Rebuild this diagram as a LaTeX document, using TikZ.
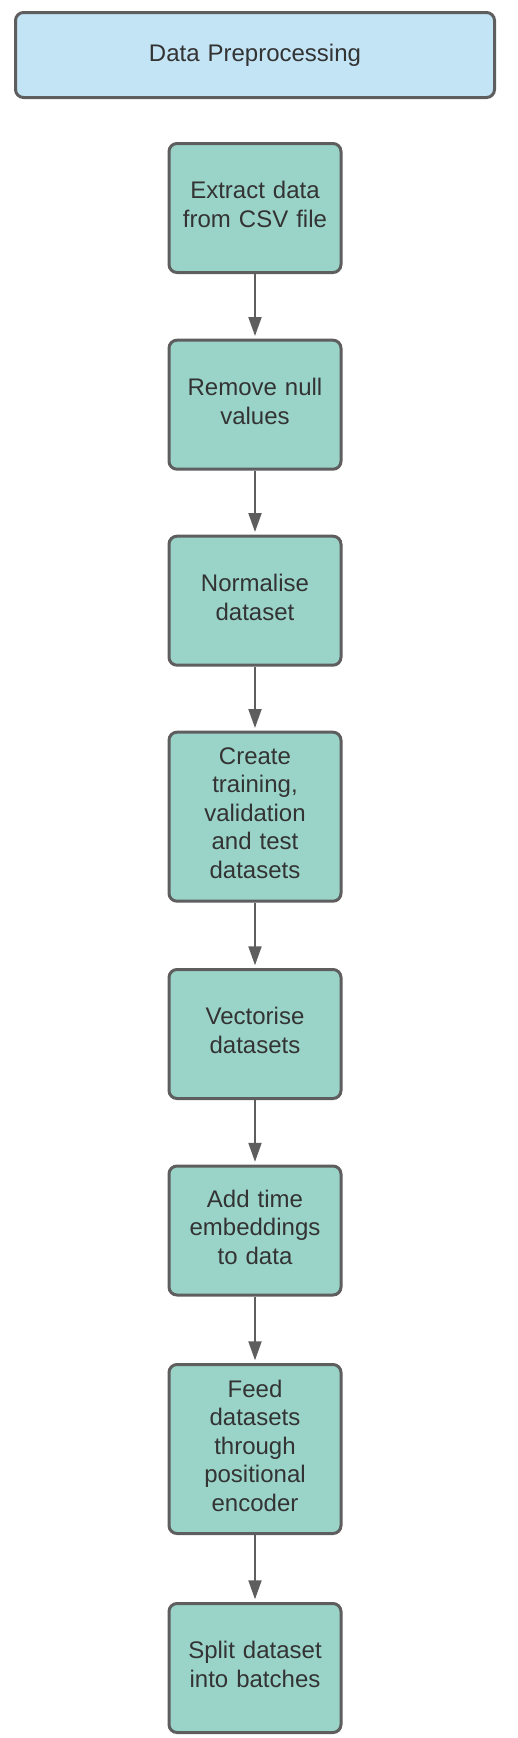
\documentclass[tikz,border=0pt]{standalone}
\usepackage{fontspec}
\setmainfont{Liberation Sans}
\usetikzlibrary{arrows.meta}
\definecolor{hdrfill}{HTML}{C3E4F5}
\definecolor{boxfill}{HTML}{9AD4C9}
\definecolor{edge}{HTML}{5E5E5E}
\definecolor{txt}{HTML}{333333}
\tikzset{
  basebox/.style={draw=edge, line width=3pt, rounded corners=8pt, inner sep=0pt,
    text=txt, align=center, font=\fontsize{24}{28.5}\selectfont},
  header/.style={basebox, fill=hdrfill, minimum width=479pt, minimum height=85pt, text width=470pt},
  stepbox/.style={basebox, fill=boxfill, minimum width=172pt, minimum height=129pt, text width=165pt,
    execute at end node={\par\nointerlineskip\vskip 7pt\hbox{}}},
  tallbox/.style={stepbox, minimum height=169pt},
  conn/.style={draw=edge, line width=2pt, -{Triangle[length=19pt,width=13pt]}, shorten >=2.7pt}
}
\begin{document}
\begin{tikzpicture}[x=1pt,y=1pt]
\useasboundingbox (0,0) rectangle (517,-1738);
\node[header] (hdr) at (255,-55) {Data Preprocessing};
\node[stepbox] (b1) at (255,-208) {Extract data\\from CSV file};
\node[stepbox] (b2) at (255,-404.7) {Remove null\\values};
\node[stepbox] (b3) at (255,-600.7) {Normalise\\dataset};
\node[tallbox] (b4) at (255,-816.7) {Create\\training,\\validation\\and test\\datasets};
\node[stepbox] (b5) at (255,-1034) {Vectorise\\datasets};
\node[stepbox] (b6) at (255,-1230.5) {Add time\\embeddings\\to data};
\node[tallbox] (b7) at (255,-1449) {Feed\\datasets\\through\\positional\\encoder};
\node[stepbox] (b8) at (255,-1668) {Split dataset\\into batches};
\draw[conn] (b1.south) -- (b2.north);
\draw[conn] (b2.south) -- (b3.north);
\draw[conn] (b3.south) -- (b4.north);
\draw[conn] (b4.south) -- (b5.north);
\draw[conn] (b5.south) -- (b6.north);
\draw[conn] (b6.south) -- (b7.north);
\draw[conn] (b7.south) -- (b8.north);
\end{tikzpicture}
\end{document}
